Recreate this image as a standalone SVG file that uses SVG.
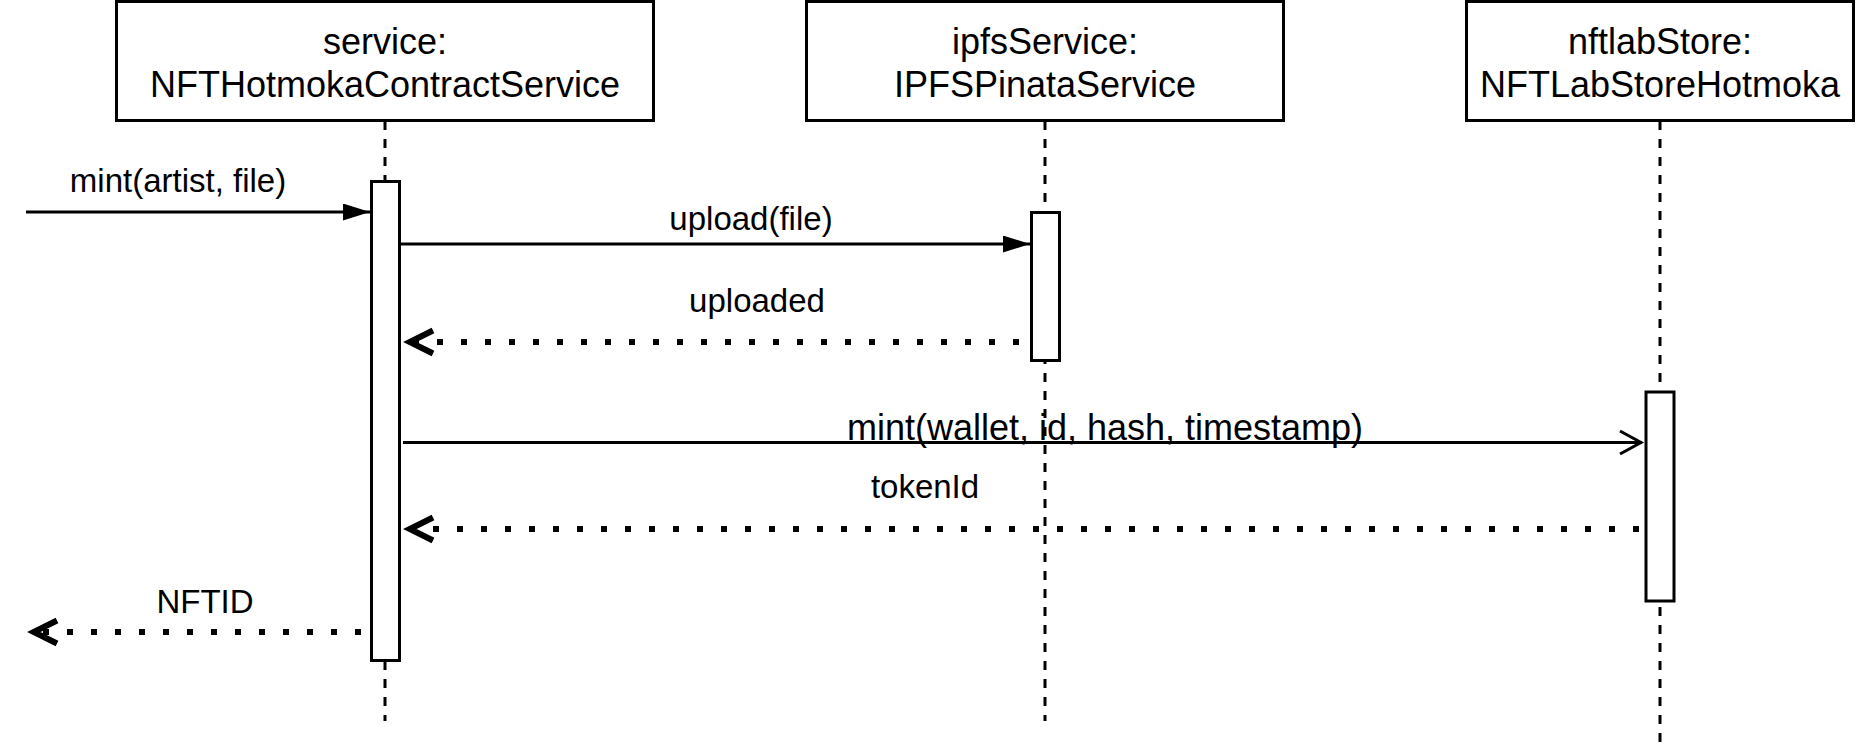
<svg xmlns="http://www.w3.org/2000/svg" width="1857" height="753" viewBox="0 0 1857 753">
<style>
.box{fill:#fff;stroke:#000;stroke-width:3}
.act{fill:#fff;stroke:#000;stroke-width:3}
.life{fill:none;stroke:#000;stroke-width:3;stroke-dasharray:9 9}
.hdr{font-family:"Liberation Sans",Arial,Helvetica,sans-serif;font-size:36px;fill:#000;text-anchor:middle}
.lbl{font-family:"Liberation Sans",Arial,Helvetica,sans-serif;font-size:33px;fill:#000;text-anchor:middle}
.lbl2{font-family:"Liberation Sans",Arial,Helvetica,sans-serif;font-size:36px;fill:#000;text-anchor:middle}
.msg{fill:none;stroke:#000;stroke-width:3}
.ret{fill:none;stroke:#000;stroke-width:6;stroke-dasharray:6 18}
.chev{fill:none;stroke:#000;stroke-width:6;stroke-linejoin:miter;stroke-miterlimit:10}
.open{fill:none;stroke:#000;stroke-width:3;stroke-linejoin:miter;stroke-miterlimit:10}
</style>
<defs>
<marker id="tri" markerUnits="userSpaceOnUse" viewBox="0 0 27 17" refX="27" refY="8.5" markerWidth="27" markerHeight="17" orient="auto">
<path d="M0,0 L27,8.5 L0,17 z" fill="#000"/>
</marker>
</defs>
<rect width="1857" height="753" fill="#fff"/>

<g id="service">
<line class="life" x1="385" y1="121" x2="385" y2="721"/>
<rect class="box" x="116.5" y="1.5" width="537" height="119"/>
<text class="hdr" x="385" y="54">service:</text>
<text class="hdr" x="385" y="97">NFTHotmokaContractService</text>
<rect class="act" x="371.5" y="181.5" width="28" height="479"/>
</g>

<g id="ipfsService">
<line class="life" x1="1045" y1="121" x2="1045" y2="721"/>
<rect class="box" x="806.5" y="1.5" width="477" height="119"/>
<text class="hdr" x="1045" y="54">ipfsService:</text>
<text class="hdr" x="1045" y="97">IPFSPinataService</text>
<rect class="act" x="1031.5" y="212.5" width="28" height="148"/>
</g>

<g id="nftlabStore">
<line class="life" x1="1660" y1="121" x2="1660" y2="742"/>
<rect class="box" x="1466.5" y="1.5" width="387" height="119"/>
<text class="hdr" x="1660" y="54">nftlabStore:</text>
<text class="hdr" x="1660" y="97">NFTLabStoreHotmoka</text>
<rect class="act" x="1646" y="392" width="28" height="209"/>
</g>

<g id="connectors">
<line class="msg" x1="26" y1="212" x2="370" y2="212" marker-end="url(#tri)"/>
<text class="lbl" x="178" y="192">mint(artist, file)</text>

<line class="msg" x1="401" y1="244" x2="1030" y2="244" marker-end="url(#tri)"/>
<text class="lbl" x="751" y="230">upload(file)</text>

<line class="ret" x1="1019" y1="342" x2="410" y2="342"/>
<path class="chev" d="M433,330.5 L409.8,342 L433,353.5"/>
<text class="lbl" x="757" y="312">uploaded</text>

<line class="msg" x1="403" y1="442.5" x2="1642" y2="442.5"/>
<path class="open" d="M1620,431 L1641,442.5 L1620,454"/>
<text class="lbl2" x="1105" y="440">mint(wallet, id, hash, timestamp)</text>

<line class="ret" x1="1639" y1="529" x2="410" y2="529"/>
<path class="chev" d="M433,517.5 L409.8,529 L433,540.5"/>
<text class="lbl" x="925" y="498">tokenId</text>

<line class="ret" x1="361" y1="632" x2="34" y2="632"/>
<path class="chev" d="M57,620.5 L33.8,632 L57,643.5"/>
<text class="lbl" x="205" y="613">NFTID</text>
</g>
</svg>
